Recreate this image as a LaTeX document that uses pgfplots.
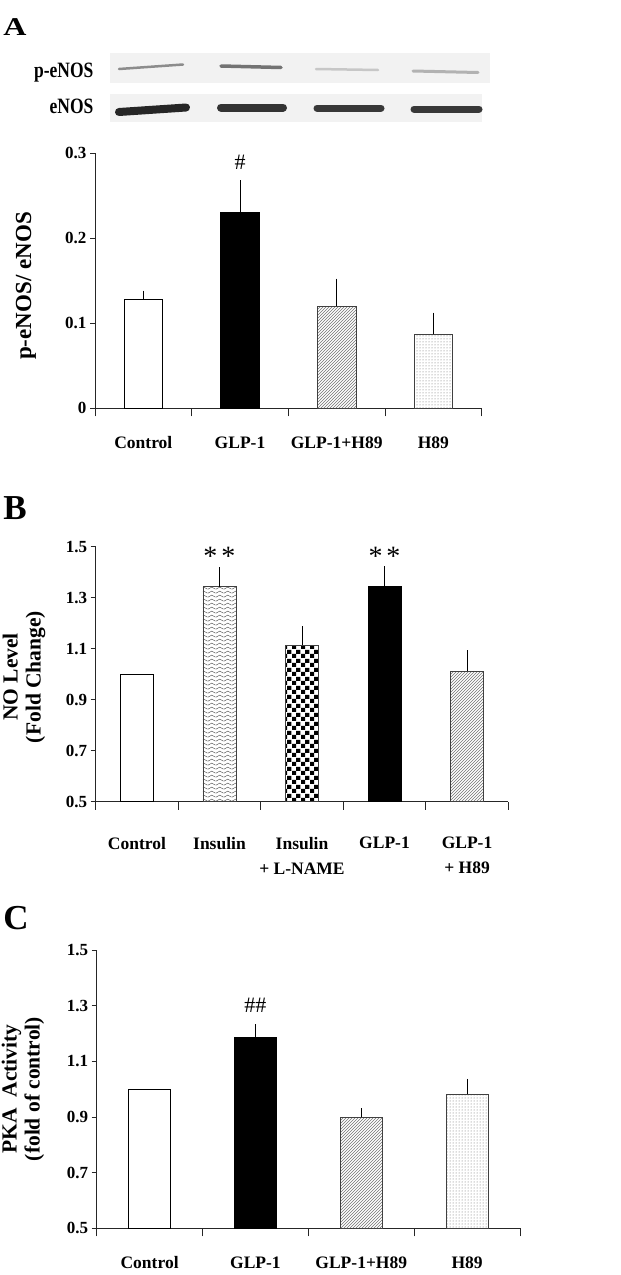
\documentclass[border=0pt]{standalone}
\usepackage{fontspec}
\setmainfont{Liberation Serif}
\usepackage{pgfplots}
\pgfplotsset{compat=1.18}
\usetikzlibrary{patterns,patterns.meta}

\tikzdeclarepattern{
  name=zigzag, type=uncolored,
  bounding box={(0,0) and (7.7pt,4.3pt)},
  tile size={(7.7pt,4.3pt)},
  code={\draw[line width=0.6pt] (0pt,1pt) -- (3.85pt,3.3pt) -- (7.7pt,1pt);}
}
\tikzdeclarepattern{
  name=checker, type=uncolored,
  bounding box={(0,0) and (8.6pt,8.6pt)},
  tile size={(8.6pt,8.6pt)},
  code={\fill (0pt,0pt) rectangle (4.3pt,4.3pt); \fill (4.3pt,4.3pt) rectangle (8.6pt,8.6pt);}
}

\pgfplotsset{
  panel/.style={
    scale only axis, clip=true, clip mode=individual,
    axis x line*=bottom, axis y line*=left,
    axis line style={line width=0.8pt, black!85, -},
    ybar, bar width=0.4,
    tick align=outside, major tick length=5pt,
    major tick style={line width=0.8pt, black!85},
    major x tick style={draw=none},
    extra x tick labels={},
    extra x tick style={major tick length=8pt, major x tick style={draw=black!85, line width=0.8pt}},
    /pgf/number format/assume math mode=true,
    yticklabel style={font=\bfseries\fontsize{17}{18}\selectfont},
    xticklabel style={font=\bfseries\fontsize{17.5}{25}\selectfont, align=center, anchor=north, inner sep=0pt, yshift=-22.7pt},
  },
  single/.style={xticklabel style={text height=12.5pt, text depth=3.5pt}},
  b/.style={bar shift=0pt,
    error bars/y dir=plus, error bars/y explicit,
    error bars/error bar style={line width=0.8pt, black},
    error bars/error mark options={line width=0.8pt, black, mark size=3pt}},
}

\begin{document}
\begin{tikzpicture}
\useasboundingbox (0,0) rectangle (621pt,-1275pt);

% ---------- panel A blot (image decoration) ----------
\node[font=\bfseries\fontsize{32}{34}\selectfont] at (15pt,-27pt) {\scalebox{1}[0.8]{A}};
\fill[gray!10] (110pt,-53pt) rectangle (490pt,-83pt);
\fill[gray!10] (110pt,-94pt) rectangle (482pt,-122pt);
\node[anchor=base east, font=\bfseries\fontsize{17.5}{18}\selectfont] at (97pt,-77pt) {\scalebox{1}[1.25]{p-eNOS}};
\node[anchor=base east, font=\bfseries\fontsize{17.5}{18}\selectfont] at (97pt,-113pt) {\scalebox{1}[1.25]{eNOS}};
\draw[line cap=round, line width=2.5pt, black!45] (119pt,-69pt) -- (183pt,-64.5pt);
\draw[line cap=round, line width=3.5pt, black!55] (221pt,-66pt) -- (281pt,-67.5pt);
\draw[line cap=round, line width=2.5pt, black!22] (316pt,-69pt) -- (378pt,-70pt);
\draw[line cap=round, line width=3pt, black!30] (413pt,-71pt) -- (478pt,-72.5pt);
\draw[line cap=round, line width=8pt, black!85] (119pt,-112pt) -- (186pt,-107.5pt);
\draw[line cap=round, line width=8pt, black!80] (221pt,-107.5pt) -- (283pt,-107.5pt);
\draw[line cap=round, line width=7pt, black!78] (317pt,-108pt) -- (381pt,-108pt);
\draw[line cap=round, line width=7pt, black!78] (414pt,-109pt) -- (479pt,-109pt);

% ---------- panel A chart ----------
\begin{axis}[panel, single, at={(95pt,-408.3pt)}, anchor=south west,
  width=386.7pt, height=255pt,
  xmin=-0.5, xmax=3.5, ymin=0, ymax=0.3,
  ytick={0,0.1,0.2,0.3}, yticklabels={0,0.1,0.2,0.3},
  xtick={0,1,2,3}, xticklabels={Control,GLP-1,GLP-1+H89,H89},
  extra x ticks={-0.5,0.5,1.5,2.5,3.5}]
\addplot[b, fill=white, draw=black, line width=0.8pt] coordinates {(0,0.128) +- (0,0.007)};
\addplot[b, fill=black, draw=black, line width=0.8pt] coordinates {(1,0.231) +- (0,0.034)};
\addplot[b, pattern=north east lines, pattern color=black!55, draw=black!75, line width=0.7pt] coordinates {(2,0.120) +- (0,0.029)};
\addplot[b, pattern=dots, pattern color=black!60, draw=black!75, line width=0.7pt] coordinates {(3,0.087) +- (0,0.022)};
\node[font=\fontsize{22}{22}\selectfont] at (axis cs:1,0.289) {\#};
\end{axis}
\node[rotate=90, font=\bfseries\fontsize{23}{24}\selectfont] at (26pt,-286pt) {p-eNOS/ eNOS};

% ---------- panel B ----------
\node[font=\bfseries\fontsize{35}{36}\selectfont] at (15pt,-508pt) {B};
\begin{axis}[panel, at={(95.7pt,-801.7pt)}, anchor=south west,
  width=412.6pt, height=255pt,
  xmin=-0.5, xmax=4.5, ymin=0.5, ymax=1.5,
  xticklabel style={yshift=-7.5pt},
  ytick={0.5,0.7,0.9,1.1,1.3,1.5}, yticklabels={0.5,0.7,0.9,1.1,1.3,1.5},
  xtick={0,1,2,3,4}, xticklabels={Control,Insulin,Insulin\\+ L-NAME,GLP-1,GLP-1\\+ H89},
  extra x ticks={-0.5,0.5,1.5,2.5,3.5,4.5}]
\addplot[bar shift=0pt, fill=white, draw=black, line width=0.8pt] coordinates {(0,1.0)};
\addplot[b, pattern=zigzag, pattern color=black!60, draw=black!75, line width=0.7pt] coordinates {(1,1.343) +- (0,0.065)};
\addplot[b, pattern=checker, pattern color=black, draw=black!75, line width=0.7pt] coordinates {(2,1.113) +- (0,0.064)};
\addplot[b, fill=black, draw=black, line width=0.8pt] coordinates {(3,1.346) +- (0,0.065)};
\addplot[b, pattern=north east lines, pattern color=black!55, draw=black!75, line width=0.7pt] coordinates {(4,1.012) +- (0,0.070)};
\node[anchor=base, font=\fontsize{28}{28}\selectfont] at (axis cs:1,1.425) {*\hspace{4pt}*};
\node[anchor=base, font=\fontsize{28}{28}\selectfont] at (axis cs:3,1.425) {*\hspace{4pt}*};
\end{axis}
\node[rotate=90, align=center, font=\bfseries\fontsize{21.5}{23}\selectfont] at (24pt,-677pt) {NO Level\\(Fold Change)};

% ---------- panel C ----------
\node[font=\bfseries\fontsize{35}{36}\selectfont] at (16pt,-918pt) {C};
\begin{axis}[panel, single, at={(96.7pt,-1228.3pt)}, anchor=south west,
  width=423.3pt, height=278.3pt,
  xmin=-0.5, xmax=3.5, ymin=0.5, ymax=1.5,
  ytick={0.5,0.7,0.9,1.1,1.3,1.5}, yticklabels={0.5,0.7,0.9,1.1,1.3,1.5},
  xtick={0,1,2,3}, xticklabels={Control,GLP-1,GLP-1+H89,H89},
  extra x ticks={-0.5,0.5,1.5,2.5,3.5}]
\addplot[bar shift=0pt, fill=white, draw=black, line width=0.8pt] coordinates {(0,1.0)};
\addplot[b, fill=black, draw=black, line width=0.8pt] coordinates {(1,1.185) +- (0,0.037)};
\addplot[b, pattern=north east lines, pattern color=black!55, draw=black!75, line width=0.7pt] coordinates {(2,0.899) +- (0,0.021)};
\addplot[b, pattern=dots, pattern color=black!60, draw=black!75, line width=0.7pt] coordinates {(3,0.981) +- (0,0.045)};
\node[font=\fontsize{22}{22}\selectfont] at (axis cs:1,1.302) {\#\#};
\end{axis}
\node[rotate=90, align=center, font=\bfseries\fontsize{21.5}{23}\selectfont] at (23pt,-1089pt) {PKA\ \ Activity\\(fold of control)};
\end{tikzpicture}
\end{document}
